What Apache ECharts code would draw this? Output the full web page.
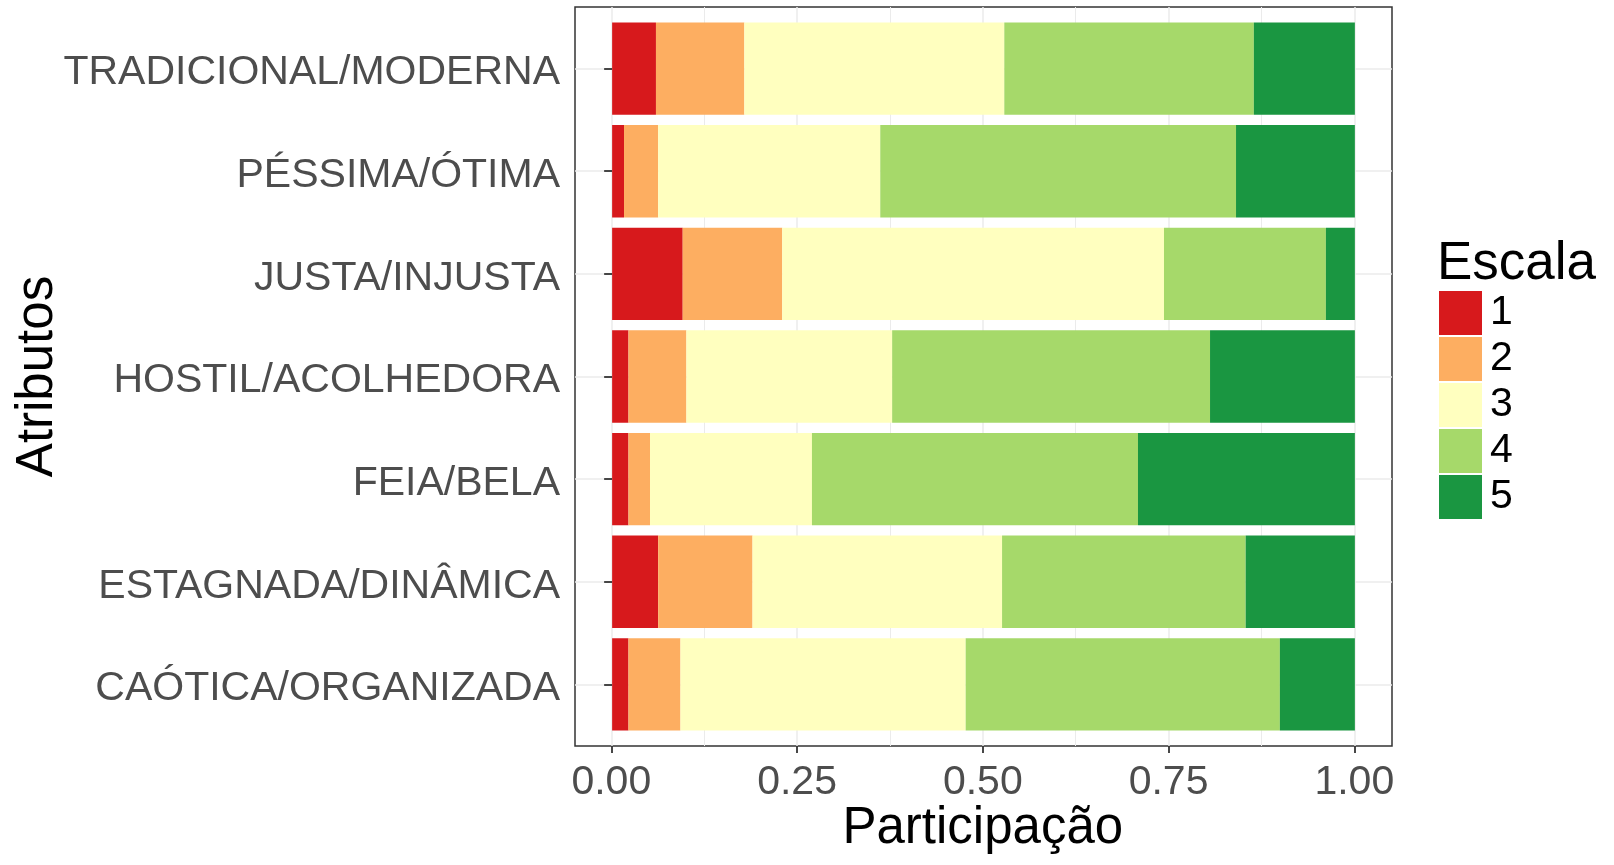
<!DOCTYPE html>
<html>
<head>
<meta charset="utf-8">
<script src="https://cdn.jsdelivr.net/npm/echarts@6/dist/echarts.min.js"></script>
<style>
  html, body { margin: 0; padding: 0; background: #fff; }
  #chart { width: 1614px; height: 865px; }
</style>
</head>
<body>
<div id="chart"></div>
<script>
// categorias (de cima para baixo)
const categorias = ['TRADICIONAL/MODERNA', 'PÉSSIMA/ÓTIMA', 'JUSTA/INJUSTA', 'HOSTIL/ACOLHEDORA',
  'FEIA/BELA', 'ESTAGNADA/DINÂMICA', 'CAÓTICA/ORGANIZADA'];
const escalas = ['1', '2', '3', '4', '5'];
const cores = ['#d7191c', '#fdae61', '#ffffbf', '#a6d96a', '#1a9641'];

// participação por nível da escala
const nivel1 = [0.059, 0.016, 0.095, 0.022, 0.022, 0.062, 0.022];
const nivel2 = [0.119, 0.046, 0.134, 0.078, 0.029, 0.127, 0.070];
const nivel3 = [0.350, 0.299, 0.514, 0.277, 0.218, 0.336, 0.384];
const nivel4 = [0.336, 0.479, 0.218, 0.428, 0.439, 0.328, 0.423];
const nivel5 = [0.136, 0.160, 0.039, 0.195, 0.292, 0.147, 0.101];
const niveis = [nivel1, nivel2, nivel3, nivel4, nivel5];

const fonte = '"Liberation Sans", Arial, sans-serif';
const gridCor = '#ebebeb';

let myChart = echarts.init(document.getElementById('chart'), null, { renderer: 'canvas' });

let option = {
  animation: false,
  backgroundColor: '#ffffff',
  textStyle: { fontFamily: fonte },
  title: {
    text: 'Escala',
    left: 1437,
    top: 238,
    padding: 0,
    textStyle: { fontFamily: fonte, fontSize: 53, fontWeight: 'normal', color: '#000' }
  },
  legend: {
    data: escalas,
    orient: 'vertical',
    left: 1439,
    top: 291,
    padding: 0,
    icon: 'rect',
    itemWidth: 43,
    itemHeight: 44,
    itemGap: 2,
    textStyle: { fontFamily: fonte, fontSize: 41, color: '#000', padding: [16, 0, 0, 3] }
  },
  grid: [
    // eixo x (0..1) com linhas de grade verticais
    { left: 611.3, right: 259.7, top: 7, bottom: 119, outerBoundsMode: 'none' },
    // barras (com expansão discreta)
    { left: 575, right: 222, top: 17.3, bottom: 129.3, outerBoundsMode: 'none' },
    // linhas horizontais nos centros das categorias
    { left: 575, right: 222, top: 68.6, bottom: 180.6, outerBoundsMode: 'none' },
    // moldura do painel
    { left: 575, right: 222, top: 7, bottom: 119, outerBoundsMode: 'none', show: true, borderColor: '#333333', borderWidth: 1.5, backgroundColor: 'transparent' }
  ],
  xAxis: [
    {
      gridIndex: 0, type: 'value', min: 0, max: 1, interval: 0.25,
      axisLine: { show: false },
      axisTick: { show: true, length: 7, lineStyle: { color: '#333333', width: 1.8 } },
      axisLabel: { formatter: v => v.toFixed(2), fontSize: 41, color: '#4d4d4d', margin: 16, fontFamily: fonte },
      splitLine: { show: true, lineStyle: { color: gridCor, width: 1.5 } },
      minorTick: { show: false, splitNumber: 2 },
      minorSplitLine: { show: true, lineStyle: { color: gridCor, width: 1 } },
      name: 'Participação',
      nameLocation: 'middle',
      nameGap: 57,
      nameMoveOverlap: false,
      nameTextStyle: { fontSize: 51, color: '#000', fontFamily: fonte }
    },
    { gridIndex: 1, type: 'value', min: -0.05, max: 1.05, show: false },
    { gridIndex: 2, type: 'value', min: 0, max: 1, show: false },
    { gridIndex: 3, type: 'value', min: 0, max: 1, show: false }
  ],
  yAxis: [
    { gridIndex: 0, type: 'value', show: false },
    {
      gridIndex: 1, type: 'category', inverse: true, data: categorias,
      axisLine: { show: false },
      axisTick: { show: true, alignWithLabel: true, length: 8, lineStyle: { color: '#333333', width: 1.8 } },
      axisLabel: {
        margin: 15,
        formatter: v => '{a|' + v + '}',
        rich: { a: { fontSize: 41, color: '#4d4d4d', fontFamily: fonte, padding: [9, 0, 0, 0] } }
      },
      splitLine: { show: false },
      name: 'Atributos',
      nameLocation: 'middle',
      nameGap: 512,
      nameRotate: 90,
      nameMoveOverlap: false,
      nameTextStyle: { fontSize: 51, color: '#000', fontFamily: fonte }
    },
    {
      gridIndex: 2, type: 'value', min: 0, max: 6, interval: 1,
      axisLine: { show: false }, axisTick: { show: false }, axisLabel: { show: false },
      splitLine: { show: true, lineStyle: { color: gridCor, width: 1.5 } }
    },
    { gridIndex: 3, type: 'value', min: 0, max: 1, show: false }
  ],
  series: escalas.map((nome, i) => ({
    name: nome,
    type: 'bar',
    stack: 'total',
    xAxisIndex: 1,
    yAxisIndex: 1,
    barCategoryGap: '10%',
    itemStyle: { color: cores[i] },
    data: niveis[i]
  }))
};

option && myChart.setOption(option);
</script>
</body>
</html>
